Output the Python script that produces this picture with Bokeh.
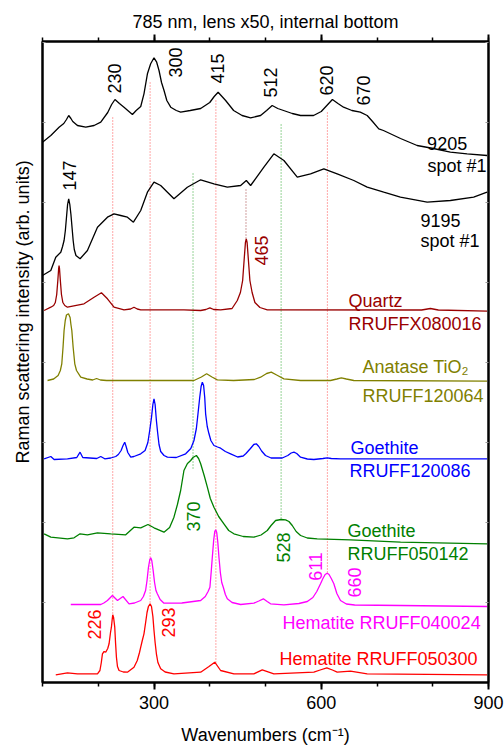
import math
from bokeh.plotting import figure
from bokeh.models import Range1d, LinearAxis, FixedTicker, Label, Title
from bokeh.embed import file_html
from bokeh.resources import INLINE

FONT = "Liberation Sans"

# ---- spectra (wavenumber in cm^-1, stacked intensity in arb. units) ----
wn_9205 = [100, 114.9, 129.7, 138.2, 143, 147, 151, 154.3, 162.7, 177.6, 192.5, 204.5, 217, 224,
           230, 238, 246.2, 261.3, 268, 276.2, 282, 288.2, 294, 300, 304.8, 309, 313.5, 318, 323,
           330, 340, 347.8, 365, 383.7, 400, 408, 415, 422, 428.5, 442.8, 458, 473.3, 491.2, 502,
           512, 522, 532.4, 548, 562.9, 586.2, 600, 610, 620, 630, 640, 655, 670, 682.4, 692, 703.2,
           711.6, 742.2, 772, 801.2, 831.6, 861.6, 897.4]
int_9205 = [540.3, 547, 555.3, 559, 563, 567, 564, 561, 557, 555.3, 557, 560.3, 570, 578,
            583, 579, 575.3, 568, 572, 576, 588.7, 608.7, 618.7, 624.7, 620.3, 612, 600, 592, 582,
            575.3, 572, 570.3, 572, 574, 580, 586, 590.3, 586, 582, 572, 567, 564.7, 567, 572,
            577, 574, 572, 569, 567, 567, 571, 577, 583, 579, 575.3, 572, 570.3, 567, 561, 553.7,
            552, 544, 537, 534, 530.3, 528.7, 527]

wn_9195 = [100, 114.9, 123.8, 132.8, 136, 138.7, 141, 143, 145, 147, 149, 151, 153, 155, 157,
           160, 167.4, 180.6, 198.6, 216.5, 228.3, 240.3, 252.3, 263.1, 276.2, 288.2, 300, 312,
           335.8, 359.8, 383.7, 407.5, 431.5, 455.4, 465.6, 473.3, 497.1, 515, 533, 557, 580.8,
           604.6, 628.6, 658.4, 682.4, 712.1, 742, 790, 831.6, 873.4, 897.4]
int_9195 = [407, 412, 425.3, 430.3, 436, 442, 452, 465, 478, 483.7, 478, 468, 455, 442, 433,
            427, 423.7, 432, 455.3, 465.3, 468.7, 467, 465.3, 460.3, 472, 490.3, 500.3, 497,
            483.7, 495.3, 502.7, 498.7, 495.3, 497, 502, 497, 515.3, 528.7, 522, 505.3, 508.7,
            513.7, 508.7, 502, 495.3, 490.3, 485.3, 480.3, 482, 485.3, 490.3]

wn_quartz = [102.9, 114.9, 120, 123, 125.5, 127.5, 129, 129.7, 130.5, 132, 134, 136.5, 140, 144.8,
             174.5, 192.5, 205.7, 216.5, 228.3, 246.2, 258, 264.1, 270, 276.2, 353.7, 383.7, 393,
             400.3, 407, 419.5, 440, 449.4, 455, 459, 462, 464, 465.5, 467, 469, 472, 476, 481, 490,
             503.2, 780, 795.8, 810, 897.4]
int_quartz = [372, 375.3, 377, 380, 388, 402, 414, 417, 414, 402, 388, 380, 377, 375.3,
              378.7, 385.3, 389.7, 383.7, 375.3, 372.7, 373.5, 375.3, 373.5, 372.7, 372.7, 372, 373,
              374.7, 373, 372.7, 374, 382, 390, 402, 425, 440, 443.7, 440, 425, 402, 390, 380, 375,
              372.7, 372.5, 374, 372.5, 371.3]

wn_anatase = [109, 120, 128, 132, 134.6, 136.8, 138.7, 140.8, 143, 146.6, 149.5, 151, 152.6, 155,
              157.9, 161, 168.6, 180, 190, 197, 204, 215, 371.7, 385, 394.4, 404, 413.6, 442.8,
              480, 491.2, 502, 510.4, 520, 533, 562.9, 616.6, 628, 636, 645, 658.4, 897.4]
int_anatase = [302, 303.5, 307, 312, 318.7, 335, 352, 362, 367.5, 368.7, 365, 358, 352, 335,
               318.7, 312, 305.3, 303.5, 302.5, 304, 302.5, 302, 302, 305.5, 308.7, 305.5, 302.7, 302,
               303, 305.3, 309, 310.3, 307.5, 303.7, 302, 302, 303.5, 304.7, 303.5, 302, 301.3]

wn_goe1 = [102.9, 114.9, 120.8, 144.8, 161.5, 167.4, 172.2, 197.3, 204.5, 211.6, 222.4, 231.4,
           236, 241, 244.5, 247.5, 250, 253, 258.3, 264, 276.2, 284, 289, 292.3, 295.5, 298, 300,
           302, 304.3, 306.5, 309, 312, 318, 324, 340, 356.8, 366, 371.7, 376, 378.9, 382, 384.5,
           386.7, 389, 391, 392.6, 395.5, 398.6, 402, 407.5, 414, 419.5, 428, 437.4, 450, 460,
           465, 473, 479, 483.5, 488, 493, 500, 510, 530, 540, 546, 551, 556, 562.9, 575, 586.7,
           603, 610.7, 618, 634.5, 897.4]
int_goe1 = [223.7, 226, 223, 223.7, 225, 230.3, 225, 224, 226, 223.7, 224.5, 226,
            228, 232, 237, 240.3, 236, 230, 225.3, 226, 228.7, 232, 240, 252, 265, 278, 283.7,
            278, 262, 250, 238, 231, 227, 225.3, 225, 228.7, 234, 242, 254, 268.7, 285, 296,
            300.3, 297, 285, 268.7, 256, 248.7, 242, 237, 235.5, 234.3, 231, 228.7, 225.5, 226.5,
            229, 234, 238, 238.7, 236, 231.5, 227, 224.5, 224.5, 227, 229.5, 230.3, 229, 225.3, 223.5, 223,
            224, 224.7, 224, 223.7, 223.7]

wn_goe2 = [102.9, 114.9, 144.8, 156.6, 167.4, 180.6, 198.6, 222.4, 249.3, 264.1, 276.2, 289.2,
           300, 317.9, 328, 335.8, 342, 347.8, 353.7, 360, 365.8, 370, 376, 380, 383.7, 390, 395.7,
           401, 407.5, 416, 425.4, 434, 443.3, 460, 479.2, 492, 503.2, 510, 518.1, 528, 536, 542,
           548, 555, 562.9, 575, 592.8, 652.5, 742.2, 897.4]
int_goe2 = [148.7, 145.3, 143.7, 144.7, 148.7, 147.7, 149.7, 148.7, 147.7, 155.3, 154.7, 158,
            154.7, 150.3, 155, 165.3, 178, 192, 212, 219, 222, 225, 227, 224, 218.7, 207, 195.3,
            184, 175.3, 166, 158.7, 152, 148.7, 146, 145.3, 147.5, 152, 157, 162, 163, 162.7, 161,
            157, 151, 147, 144.5, 143.7, 142.7, 140.3, 138.7]

wn_hem1 = [150.7, 204.5, 210, 216.5, 225.4, 234.5, 244.4, 255.2, 265, 276.2, 281, 284.9, 287.5,
           290, 292.5, 294.1, 296, 298.5, 301, 303.5, 306, 311, 317.9, 350, 383.7, 392, 397, 400.3,
           402.5, 404.6, 407, 409, 410.6, 412.5, 414.5, 416.5, 419, 421.5, 424.3, 428, 431.5, 440,
           455.4, 479.2, 488, 496.1, 503, 509.1, 533, 560, 575, 585, 592, 598.7, 603, 607, 610.7,
           614, 618, 622.6, 628, 634.5, 645, 660, 742.2, 897.4]
int_hem1 = [78, 78, 79.5, 82, 87, 82, 86, 78.7, 79.5, 82, 86, 92, 102,
            115, 123, 124.7, 122, 112, 100, 92, 88.7, 83, 79.3, 79.5, 82, 86, 91, 95.3,
            110, 125.3, 142, 151, 152.7, 150, 140, 125.3, 110, 100, 95.3, 88, 83.7, 80,
            78, 79.3, 81.5, 83.7, 81, 78.7, 77.7, 79, 81, 85, 91, 98.7, 104, 108, 109.3,
            108, 104, 98.7, 89, 82, 78.5, 77.5, 77, 76]

wn_hem2 = [123.8, 144.8, 162.7, 198.6, 203, 205.5, 207.5, 210.5, 213.4, 217, 219.4, 222, 223.6,
           225, 226, 227.5, 229.6, 231, 232.6, 234.5, 237.3, 245, 252.3, 264.1, 270, 274, 276.2,
           279, 282, 285, 287.5, 290, 293, 295.5, 298, 300, 302, 304.3, 307, 312, 320, 335.8, 383.7,
           398.6, 409, 419.5, 443.3, 479.2, 494.2, 515, 586.7, 598, 610, 620, 628.6, 652.5, 682.4,
           897.4]
int_hem2 = [7.7, 9.7, 8.7, 8.7, 12, 20, 28.7, 31, 30.3, 34, 38.7, 50, 55.3,
            63, 67.7, 65, 55.3, 40, 25.3, 16, 12, 10.5, 10.3, 15.3, 22, 30, 35.3,
            42, 48.7, 60, 70, 76, 78.7, 76, 66, 52, 40, 28.7, 20, 13.7, 10.5, 8.7, 10.3,
            16, 20.3, 12, 8.7, 8.7, 12.7, 8.7, 10.3, 12.5, 14.7, 12.5, 10.3, 11.3, 8.7,
            7.7]

spectra = [
    (wn_9205, int_9205, "black"),
    (wn_9195, int_9195, "black"),
    (wn_quartz, int_quartz, "#990000"),
    (wn_anatase, int_anatase, "#808000"),
    (wn_goe1, int_goe1, "#0000FF"),
    (wn_goe2, int_goe2, "#008000"),
    (wn_hem1, int_hem1, "#FF00FF"),
    (wn_hem2, int_hem2, "#FF0000"),
]

# ---- dotted guide lines: position, bottom, top, colour ----
guide_x = [226, 293, 411, 611, 370, 528, 465]
guide_y0 = [69, 80, 20, 110, 214, 164, 444]
guide_y1 = [567, 600, 582, 570, 510, 560, 495]
guide_col = ["#FF5050", "#FF5050", "#FF5050", "#FF5050", "#2EA82E", "#2EA82E", "#A04040"]

# ---- vertical peak annotations ----
peak_text = ["230", "300", "415", "512", "620", "670", "147", "465", "370", "528", "611", "660",
             "226", "293"]
peak_x = [228.3, 338.9, 413.6, 509.1, 609.5, 675.8, 147.7, 493, 370.6, 531.9, 589.8, 660.2,
          193.7, 326.9]
peak_y = [604, 620, 614, 600, 602, 592, 507, 432, 166, 135, 116, 100, 58, 60]
peak_col = ["black"] * 7 + ["#990000", "#008000", "#008000", "#FF00FF", "#FF00FF",
                            "#FF0000", "#FF0000"]

# ---- sample / reference names ----
name_text = ["9205", "spot #1", "9195", "spot #1", "Quartz", "RRUFFX080016",
             "Anatase TiO\u2082", "RRUFF120064", "Goethite", "RRUFF120086", "Goethite",
             "RRUFF050142", "Hematite RRUFF040024", "Hematite RRUFF050300"]
name_x = [789.9, 790.5, 777.9, 777.9, 648.9, 648.9, 674, 674, 652.5, 650.7, 647.1, 647.1,
          530.6, 525.2]
name_y = [539, 517, 462, 442, 382, 359, 316, 287, 235, 212, 152, 129, 60, 24]
name_col = ["black"] * 4 + ["#990000"] * 2 + ["#808000"] * 2 + ["#0000FF"] * 2 + \
           ["#008000"] * 2 + ["#FF00FF", "#FF0000"]

x_major = [300, 600, 900]
x_minor = [100, 200, 300, 400, 500, 600, 700, 800, 900]
y_ticks = [80, 160, 240, 320, 400, 480, 560, 640]

p = figure(width=504, height=749, x_range=Range1d(100, 900), y_range=Range1d(0, 641),
           output_backend="svg", toolbar_location=None,
           x_axis_location=None, y_axis_location=None,
           min_border_left=42, min_border_right=16, min_border_top=41, min_border_bottom=67)
p.background_fill_color = "white"
p.border_fill_color = "white"
p.outline_line_color = "black"
p.outline_line_width = 2
p.xgrid.visible = False
p.ygrid.visible = False

bottom_axis = LinearAxis()
top_axis = LinearAxis()
left_axis = LinearAxis()
right_axis = LinearAxis()

for ax in [bottom_axis, top_axis]:
    ax.ticker = FixedTicker(ticks=x_major, minor_ticks=x_minor)
    ax.axis_line_width = 2
    ax.axis_line_color = "black"
    ax.major_tick_in = 0
    ax.major_tick_out = 7
    ax.minor_tick_in = 0
    ax.minor_tick_out = 4
    ax.major_tick_line_width = 2
    ax.minor_tick_line_width = 1.5
    ax.major_tick_line_color = "black"
    ax.minor_tick_line_color = "black"

bottom_axis.major_label_text_font = FONT
bottom_axis.major_label_text_font_size = "18px"
bottom_axis.major_label_text_color = "black"
bottom_axis.major_label_standoff = 6
bottom_axis.axis_label = "Wavenumbers (cm\u207b\u00b9)"
bottom_axis.axis_label_text_font = FONT
bottom_axis.axis_label_text_font_size = "18px"
bottom_axis.axis_label_text_font_style = "normal"
bottom_axis.axis_label_text_color = "black"
bottom_axis.axis_label_standoff = 13

top_axis.major_label_overrides = {t: "" for t in x_major}
top_axis.major_label_standoff = 0

for ax in [left_axis, right_axis]:
    ax.ticker = FixedTicker(ticks=y_ticks, minor_ticks=[])
    ax.axis_line_width = 2
    ax.axis_line_color = "black"
    ax.major_tick_in = 3
    ax.major_tick_out = 0
    ax.major_tick_line_color = "#999999"
    ax.major_tick_line_width = 1
    ax.major_label_overrides = {t: "" for t in y_ticks}
    ax.major_label_standoff = 0

p.add_layout(bottom_axis, "below")
p.add_layout(top_axis, "above")
p.add_layout(left_axis, "left")
p.add_layout(right_axis, "right")

# title above; vertical axis title on the left, starting 219 px above the frame bottom
p.add_layout(Title(text="785 nm, lens x50, internal bottom", align="center",
                   text_font=FONT, text_font_size="18px", text_font_style="normal",
                   text_color="black", standoff=6), "above")
p.add_layout(Title(text="Raman scattering intensity (arb. units)", align="left", offset=219,
                   text_font=FONT, text_font_size="18px", text_font_style="normal",
                   text_color="black", standoff=20), "left")

# guides
p.segment(x0=guide_x, y0=guide_y0, x1=guide_x, y1=guide_y1, line_color=guide_col,
          line_width=1, line_dash="1 2")

# spectra
for wn, inten, col in spectra:
    p.line(wn, inten, line_color=col, line_width=1.3)

for t, x, y, c in zip(peak_text, peak_x, peak_y, peak_col):
    p.add_layout(Label(x=x, y=y, text=t, angle=math.pi / 2, text_align="center",
                       text_baseline="middle", text_font=FONT, text_font_size="18px",
                       text_color=c))

for t, x, y, c in zip(name_text, name_x, name_y, name_col):
    p.add_layout(Label(x=x, y=y, text=t, text_align="left", text_baseline="middle",
                       text_font=FONT, text_font_size="18px", text_color=c))

open("out.html", "w").write(file_html(p, INLINE))
